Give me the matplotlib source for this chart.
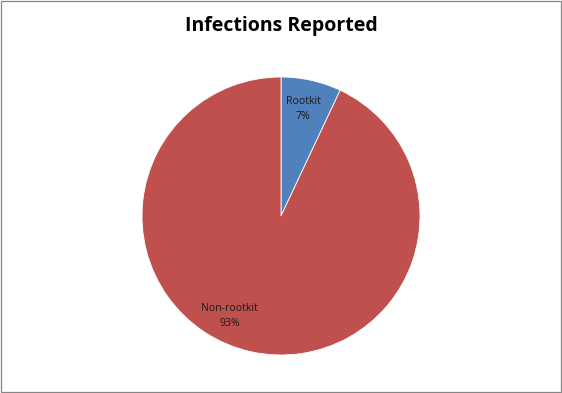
import matplotlib.pyplot as plt
from matplotlib.patches import Rectangle

labels = ['Rootkit', 'Non-rootkit']
values = [7, 93]
colors = ['#4F81BD', '#C0504D']
# label positions in units of the pie radius (Excel-style placement)
label_pos = [(0.16, 0.77), (-0.37, -0.72)]

plt.rcParams['font.family'] = ['Open Sans', 'DejaVu Sans']

W, H = 562, 393
fig = plt.figure(figsize=(W / 100, H / 100), dpi=100)
ax = fig.add_axes([142 / W, 38 / H, 278 / W, 278 / H])

wedges, _ = ax.pie(values, colors=colors, startangle=90, counterclock=False,
                   wedgeprops=dict(edgecolor='white', linewidth=0.6))
ax.set_xlim(-1, 1)
ax.set_ylim(-1, 1)
ax.set_aspect('auto')

total = sum(values)
for lab, v, (x, y) in zip(labels, values, label_pos):
    ax.text(x, y, f'{lab}\n{round(100 * v / total)}%', ha='center', va='center',
            fontsize=7.6, color='#1a1a1a', linespacing=1.5)

fig.text(0.5, 0.935, 'Infections Reported', ha='center', va='center',
         fontsize=14, fontweight='bold', color='black')

# thin grey frame around the whole chart
fig.patches.append(Rectangle((1.0 / W, 1.0 / H), (W - 2.0) / W, (H - 2.0) / H,
                             transform=fig.transFigure, fill=False,
                             edgecolor='#868686', linewidth=0.9))

fig.savefig('out.png', dpi=100)
